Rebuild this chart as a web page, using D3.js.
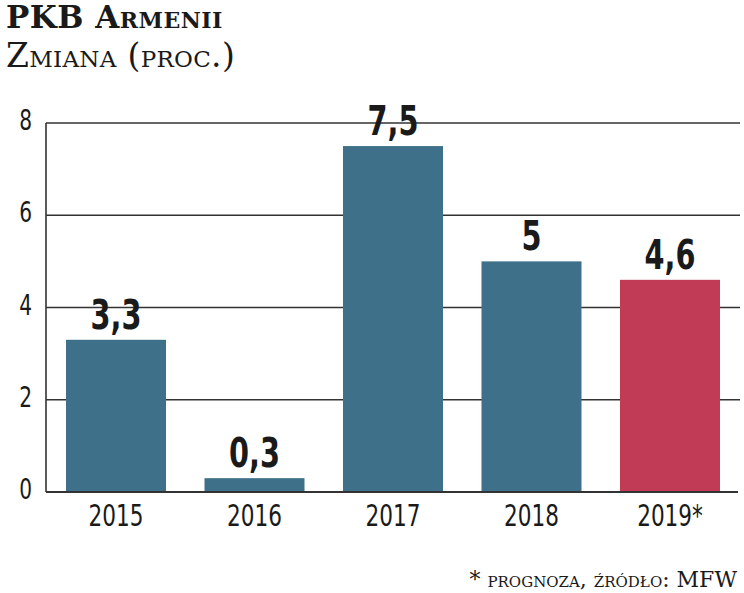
<!DOCTYPE html>
<html>
<head>
<meta charset="utf-8">
<script src="https://cdn.jsdelivr.net/npm/d3@7"></script>
<style>
  body { margin: 0; background: #fff; }
  svg { display: block; }
  .serif { font-family: "DejaVu Serif", serif; font-variant: small-caps; fill: #1a1a1a; }
  .cond { font-family: "DejaVu Sans Condensed", "DejaVu Sans", sans-serif; font-stretch: condensed; fill: #1a1a1a; }
</style>
</head>
<body>
<div id="chart"></div>
<script>
var years = ["2015", "2016", "2017", "2018", "2019*"];
var values = [3.3, 0.3, 7.5, 5, 4.6];
var labels = ["3,3", "0,3", "7,5", "5", "4,6"];
var yTicks = [0, 2, 4, 6, 8];
var barColors = ["#3f7089", "#3f7089", "#3f7089", "#3f7089", "#c23b56"];

var width = 744, height = 593;

var svg = d3.select("#chart")
	.append("svg")
	.attr("width", width)
	.attr("height", height);

var x = d3.scaleBand()
	.domain(years)
	.range([66, 720])
	.paddingInner(0.278)
	.paddingOuter(0);

var y = d3.scaleLinear()
	.domain([0, 8])
	.range([492, 123]);

// title
svg.append("text")
	.attr("class", "serif")
	.attr("x", 6)
	.attr("y", 28)
	.style("font-size", "31px")
	.style("font-weight", "bold")
	.style("letter-spacing", "0.5px")
	.text("PKB Armenii");

svg.append("text")
	.attr("class", "serif")
	.attr("x", 6)
	.attr("y", 67)
	.style("font-size", "33px")
	.style("letter-spacing", "0.3px")
	.text("Zmiana (proc.)");

// gridlines
svg.append("g")
	.selectAll("line")
	.data(yTicks.filter(function(d){ return d > 0; }))
	.enter().append("line")
	.attr("x1", 46)
	.attr("x2", 740)
	.attr("y1", function(d){ return y(d); })
	.attr("y2", function(d){ return y(d); })
	.style("stroke", "#333")
	.style("stroke-width", 1.6);

// left axis line
svg.append("line")
	.attr("x1", 46).attr("x2", 46)
	.attr("y1", y(8)).attr("y2", y(0))
	.style("stroke", "#333")
	.style("stroke-width", 1.6);

// bars
svg.append("g")
	.selectAll("rect")
	.data(values)
	.enter().append("rect")
	.attr("x", function(d, i){ return x(years[i]); })
	.attr("width", x.bandwidth())
	.attr("y", function(d){ return y(d); })
	.attr("height", function(d){ return y(0) - y(d); })
	.style("fill", function(d, i){ return barColors[i]; });

// baseline
svg.append("line")
	.attr("x1", 46).attr("x2", 738)
	.attr("y1", y(0)).attr("y2", y(0))
	.style("stroke", "#333")
	.style("stroke-width", 2.2);

// y tick labels
svg.append("g")
	.selectAll("text")
	.data(yTicks)
	.enter().append("text")
	.attr("class", "cond")
	.attr("transform", function(d){ return "translate(32," + (y(d) + 7) + ") scale(0.8,1)"; })
	.attr("text-anchor", "end")
	.style("font-size", "28px")
	.style("font-weight", "300")
	.text(function(d){ return d; });

// x labels
svg.append("g")
	.selectAll("text")
	.data(years)
	.enter().append("text")
	.attr("class", "cond")
	.attr("transform", function(d){ return "translate(" + (x(d) + x.bandwidth() / 2) + ",526) scale(0.8,1)"; })
	.attr("text-anchor", "middle")
	.style("font-size", "30px")
	.text(function(d){ return d; });

// value labels
svg.append("g")
	.selectAll("text")
	.data(values)
	.enter().append("text")
	.attr("class", "cond")
	.attr("transform", function(d, i){ return "translate(" + (x(years[i]) + x.bandwidth() / 2) + "," + (y(d) - 11) + ") scale(0.78,1)"; })
	.attr("text-anchor", "middle")
	.style("font-size", "41px")
	.style("font-weight", "bold")
	.text(function(d, i){ return labels[i]; });

// footnote
svg.append("text")
	.attr("class", "serif")
	.attr("x", 737)
	.attr("y", 587)
	.attr("text-anchor", "end")
	.style("font-size", "22px")
	.text("* prognoza, źródło: MFW");
</script>
</body>
</html>
